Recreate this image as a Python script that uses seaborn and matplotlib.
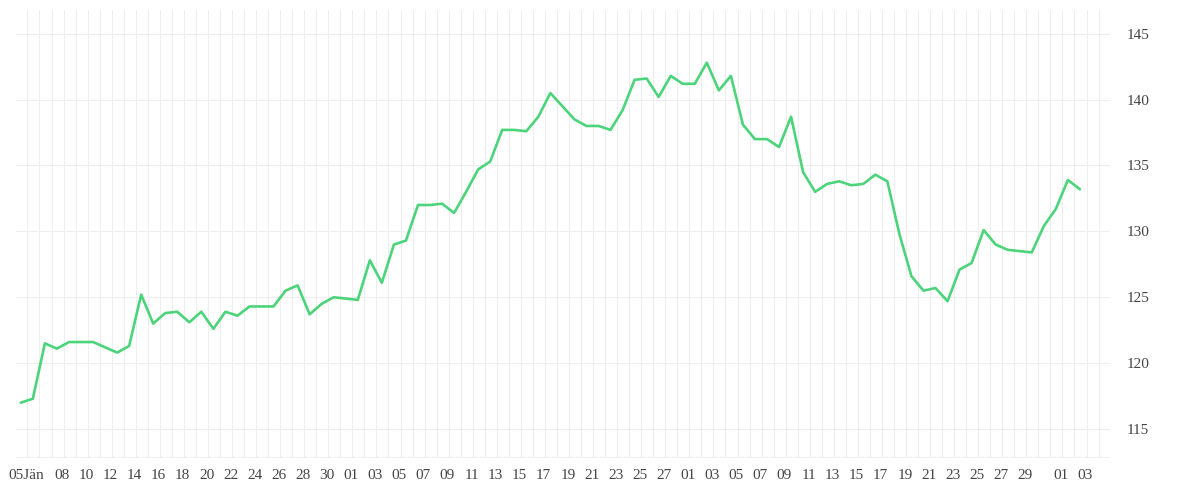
import numpy as np
import pandas as pd
import matplotlib
matplotlib.use("Agg")
import matplotlib.pyplot as plt
import seaborn as sns

# daily values, 05 Jan .. 03 Apr
values = [117.0, 117.3, 121.5, 121.1, 121.6, 121.6, 121.6, 121.2, 120.8, 121.3,
          125.2, 123.0, 123.8, 123.9, 123.1, 123.9, 122.6, 123.9, 123.6, 124.3,
          124.3, 124.3, 125.5, 125.9, 123.7, 124.5, 125.0, 124.9, 124.8, 127.8,
          126.1, 129.0, 129.3, 132.0, 132.0, 132.1, 131.4, 133.0, 134.7, 135.3,
          137.7, 137.7, 137.6, 138.7, 140.5, 139.5, 138.5, 138.0, 138.0, 137.7,
          139.2, 141.5, 141.6, 140.2, 141.8, 141.2, 141.2, 142.8, 140.7, 141.8,
          138.1, 137.0, 137.0, 136.4, 138.7, 134.5, 133.0, 133.6, 133.8, 133.5,
          133.6, 134.3, 133.8, 129.8, 126.6, 125.5, 125.7, 124.7, 127.1, 127.6,
          130.1, 129.0, 128.6, 128.5, 128.4, 130.4, 131.7, 133.9, 133.2]
dates = pd.date_range("2015-01-05", periods=len(values), freq="D")
y_ticks = [115, 120, 125, 130, 135, 140, 145]

df = pd.DataFrame({"idx": np.arange(len(values)), "value": values})

sns.set_theme(style="white")
plt.rcParams['font.family'] = ['Liberation Serif', 'DejaVu Serif']

fig = plt.figure(figsize=(12, 5), dpi=100)
ax = fig.add_axes([16 / 1200, 42 / 500, 1094 / 1200, 448 / 500])

sns.lineplot(data=df, x="idx", y="value", ax=ax, color="#4cd47b", linewidth=1.9)

ax.set_xlim(-0.4, 90.5)
ax.set_ylim(112.8, 146.8)

# daily vertical grid
for i in range(len(values) + 2):
    ax.axvline(i - 0.45, color="#eeeeee", linewidth=0.8, zorder=0)
for v in y_ticks + [112.85]:
    ax.axhline(v, color="#eeeeee", linewidth=0.8, zorder=0)

# tick labels: Jan on even days, later months on odd days, month name on first
lab_pos, lab_txt = [], []
for i, d in enumerate(dates):
    if i == 0:
        lab_pos.append(i + 0.45); lab_txt.append("05Jän")
    elif d.month == 1:
        if d.day >= 8 and d.day % 2 == 0:
            lab_pos.append(i + 0.45); lab_txt.append(d.strftime("%d"))
    elif d.day % 2 == 1 and d.day != 31:
        lab_pos.append(i + 0.45); lab_txt.append(d.strftime("%d"))
ax.set_xticks(lab_pos)
ax.set_xticklabels(lab_txt, fontsize=11, color="#444444")
ax.yaxis.tick_right()
ax.set_yticks(y_ticks)
ax.set_yticklabels([str(v) for v in y_ticks], fontsize=11, color="#444444")
ax.tick_params(axis="x", length=0, pad=8)
ax.tick_params(axis="y", length=0, pad=12)
ax.set_xlabel("")
ax.set_ylabel("")
for s in ax.spines.values():
    s.set_visible(False)

fig.savefig("out.png", dpi=100, facecolor="white")
